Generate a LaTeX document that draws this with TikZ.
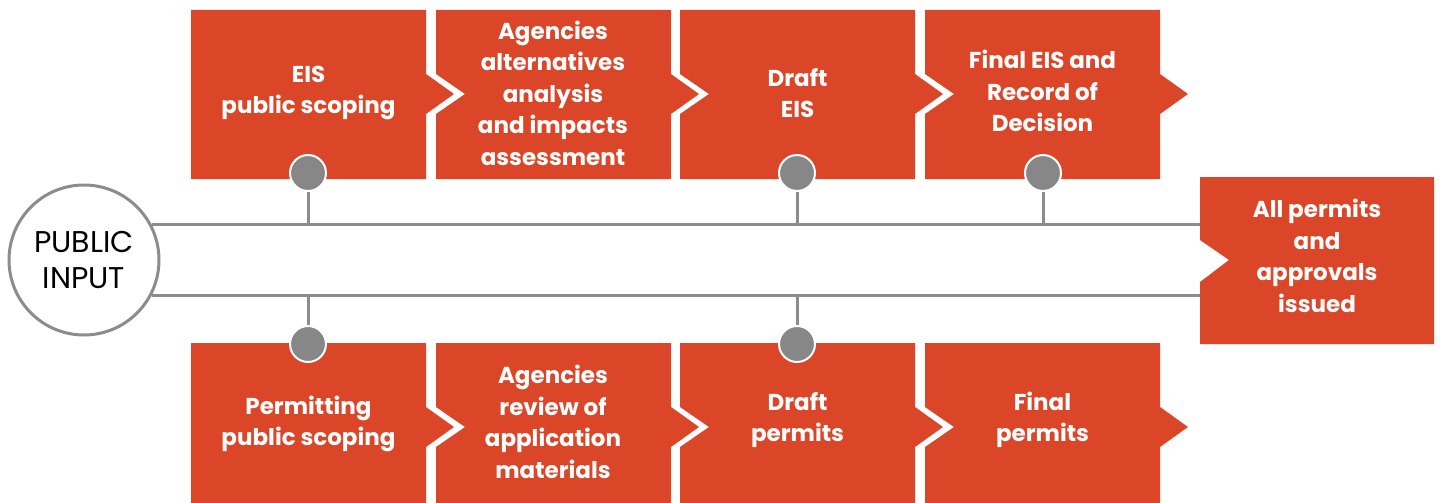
\documentclass[tikz,border=0pt]{standalone}
\usepackage{fontspec}
\setmainfont{Poppins}
\definecolor{stepred}{HTML}{DC4628}
\definecolor{linegray}{HTML}{8C8C8C}
\definecolor{dotgray}{HTML}{878787}

% one step of the process: left x, top y, bottom y, middle y, notch depth
\newcommand{\stepbox}[5]{%
  \fill[stepred] (#1,#2) -- ({#1+235},#2) -- ({#1+235},{#4-20}) -- ({#1+263},#4)
    -- ({#1+235},{#4+20}) -- ({#1+235},#3) -- (#1,#3) -- (#1,{#4+20})
    -- ({#1+#5},#4) -- (#1,{#4-20}) -- cycle;}

\begin{document}
\begin{tikzpicture}[x=1pt, y=-1pt,
    steptext/.style={text=white, align=center, font=\fontsize{23}{31.5}\selectfont\bfseries},
    track/.style={draw=linegray, line width=3pt},
    knob/.style={circle, fill=dotgray, draw=white, line width=2pt, minimum size=36pt, inner sep=0pt}]
    \useasboundingbox (0,0) rectangle (1440,503);

    % steps
    \stepbox{191}{10}{179}{94}{0}
    \stepbox{436}{10}{179}{94}{29}
    \stepbox{680}{10}{179}{94}{29}
    \stepbox{925}{10}{179}{94}{29}
    \stepbox{191}{343}{503}{427}{0}
    \stepbox{436}{343}{503}{427}{29}
    \stepbox{680}{343}{503}{427}{29}
    \stepbox{925}{343}{503}{427}{29}
    \fill[stepred] (1200,177) -- (1434,177) -- (1434,344) -- (1200,344)
        -- (1200,282) -- (1229,260) -- (1200,240) -- cycle;
    \coordinate (endL) at (1200,260);

    % public input and its two tracks
    \node[circle, draw=linegray, line width=3pt, fill=white, minimum size=150pt,
        align=center, font=\fontsize{30}{36}\selectfont] (pin) at (84,260) {PUBLIC\\INPUT};
    \draw[track] (pin.28) -- (pin.28 -| endL);
    \draw[track] (pin.-28) -- (pin.-28 -| endL);

    \node[steptext] (eis) at (308.5,93) {EIS\\public scoping};
    \node[steptext] (alt) at (553,93) {Agencies\\alternatives\\analysis\\and impacts\\assessment};
    \node[steptext] (deis) at (797.5,93) {Draft\\EIS};
    \node[steptext] (feis) at (1042.5,91) {Final EIS and\\Record of\\Decision};
    \node[steptext] (pscope) at (308.5,424) {Permitting\\public scoping};
    \node[steptext] (review) at (553,422) {Agencies\\review of\\application\\materials};
    \node[steptext] (dperm) at (797.5,420) {Draft\\permits};
    \node[steptext] (fperm) at (1042.5,420) {Final\\permits};
    \node[steptext] (issued) at (1317,256) {All permits\\and\\approvals\\issued};

    % milestones on the tracks
    \node[knob] (k1) at (308,173) {};
    \node[knob] (k2) at (797,173) {};
    \node[knob] (k3) at (1043,173) {};
    \node[knob] (k4) at (308,344) {};
    \node[knob] (k5) at (797,344) {};
    \draw[track] (k1.south) -- (k1.south |- pin.28);
    \draw[track] (k2.south) -- (k2.south |- pin.28);
    \draw[track] (k3.south) -- (k3.south |- pin.28);
    \draw[track] (k4.north) -- (k4.north |- pin.-28);
    \draw[track] (k5.north) -- (k5.north |- pin.-28);
\end{tikzpicture}
\end{document}
